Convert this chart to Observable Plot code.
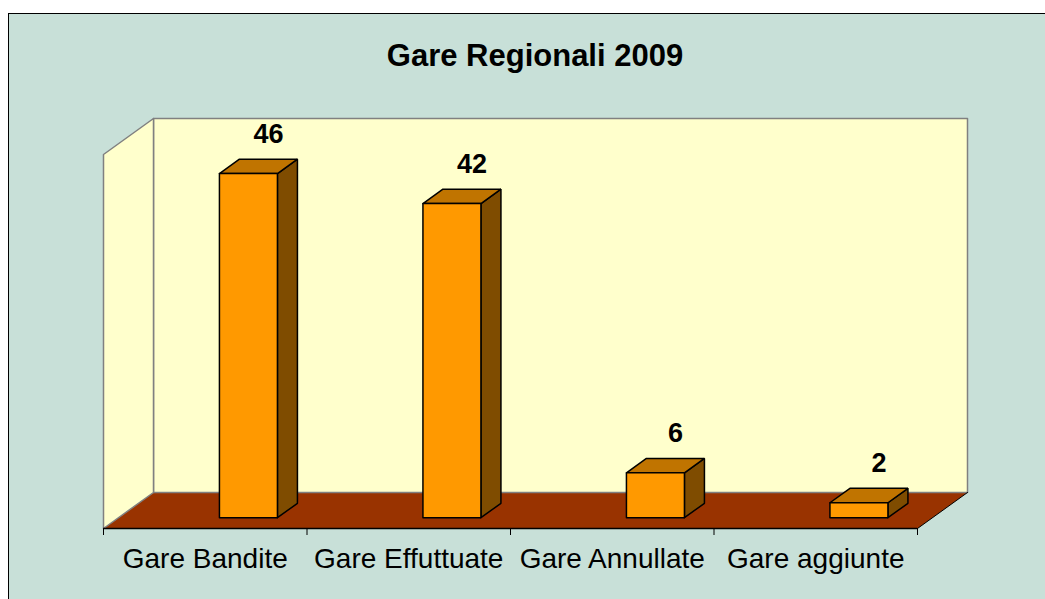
<!DOCTYPE html>
<html>
<head>
<meta charset="utf-8">
<script src="https://cdn.jsdelivr.net/npm/d3@7"></script>
<script src="https://cdn.jsdelivr.net/npm/@observablehq/plot@0.6"></script>
<style>
  html, body { margin: 0; padding: 0; background: #ffffff; }
  #wrap { position: relative; width: 1045px; height: 599px; overflow: hidden; }
  #frame { position: absolute; left: 8px; top: 13px; width: 1100px; height: 700px;
           background: #C8E0D8; border: 1px solid #000; box-sizing: border-box; }
  #title { position: absolute; left: 0; width: 1070px; top: 40px; text-align: center;
           font-family: "Liberation Sans", Arial, sans-serif; font-weight: bold;
           font-size: 31px; line-height: 1; color: #000; }
  #chart { position: absolute; left: 0; top: 0; }
</style>
</head>
<body>
<div id="wrap">
  <div id="frame"></div>
  <div id="title">Gare Regionali 2009</div>
  <div id="chart"></div>
</div>
<script>
// ---- data ----
const categories = ["Gare Bandite", "Gare Effuttuate", "Gare Annullate", "Gare aggiunte"];
const values = [46, 42, 6, 2];
const yMax = 50;

// ---- 3D oblique projection (in data units) ----
const DX = 50 / 203.5;   // x-units per full depth
const DY = 36 / 7.48;    // y-units per full depth
const P = (x, y, d) => ({x: x + d * DX, y: y + d * DY});
const n = categories.length;

// walls & floor
const backWall = [P(0,0,1), P(n,0,1), P(n,yMax,1), P(0,yMax,1), P(0,0,1)];
const leftWall = [P(0,0,0), P(0,yMax,0), P(0,yMax,1), P(0,0,1), P(0,0,0)];
const floorPoly = [P(0,0,0), P(n,0,0), P(n,0,1), P(0,0,1), P(0,0,0)];
const floorRight = [P(n,0,0), P(n,0,1)];

// bars
const s = 0.496, w = 0.285, d0 = 0.3, d1 = 0.7;
const frontFaces = [], topFaces = [], sideFaces = [], labelPts = [];
values.forEach((v, i) => {
  const a = i + s, b = i + s + w;
  [P(a,0,d0), P(b,0,d0), P(b,v,d0), P(a,v,d0), P(a,0,d0)].forEach(p => frontFaces.push({...p, id: i}));
  [P(a,v,d0), P(b,v,d0), P(b,v,d1), P(a,v,d1), P(a,v,d0)].forEach(p => topFaces.push({...p, id: i}));
  [P(b,0,d0), P(b,0,d1), P(b,v,d1), P(b,v,d0), P(b,0,d0)].forEach(p => sideFaces.push({...p, id: i}));
  labelPts.push({...P((a + b) / 2, v, d1), label: String(v)});
});

const font = '"Liberation Sans", Arial, sans-serif';

const chart = Plot.plot({
  width: 1045,
  height: 599,
  marginLeft: 103,
  marginRight: 128,
  marginTop: 154,
  marginBottom: 71,
  style: {background: "transparent", fontFamily: font, overflow: "visible"},
  x: {domain: [0, n], label: null},
  y: {domain: [0, yMax], axis: null, label: null},
  marks: [
    Plot.line(floorPoly, {x: "x", y: "y", fill: "#993300", stroke: "none"}),
    Plot.line(backWall, {x: "x", y: "y", fill: "#FFFFCC", stroke: "#808080", strokeWidth: 1.5}),
    Plot.line(leftWall, {x: "x", y: "y", fill: "#FFFFCC", stroke: "#808080", strokeWidth: 1.5}),
    Plot.line(floorRight, {x: "x", y: "y", stroke: "#000", strokeWidth: 1}),
    Plot.ruleY([0], {x1: 0, x2: n, stroke: "#000", strokeWidth: 1.5}),
    Plot.axisX({ticks: d3.range(n + 1), tickFormat: () => "", tickSize: 7, stroke: "#000", strokeWidth: 1, label: null}),
    Plot.line(sideFaces, {x: "x", y: "y", z: "id", fill: "#7F4C00", stroke: "#000", strokeWidth: 1.5, strokeLinejoin: "miter"}),
    Plot.line(topFaces, {x: "x", y: "y", z: "id", fill: "#C07400", stroke: "#000", strokeWidth: 1.5, strokeLinejoin: "miter"}),
    Plot.line(frontFaces, {x: "x", y: "y", z: "id", fill: "#FF9900", stroke: "#000", strokeWidth: 1.5, strokeLinejoin: "miter"}),
    Plot.text(labelPts, {x: "x", y: "y", text: "label", dy: -25, fontSize: 27, fontWeight: "bold", fill: "#000", lineAnchor: "middle"}),
    Plot.text(categories, {x: (d, i) => i + 0.5, y: () => 0, text: d => d, dy: 31, fontSize: 28, fill: "#000", lineAnchor: "middle"})
  ]
});
document.getElementById("chart").appendChild(chart);
</script>
</body>
</html>
